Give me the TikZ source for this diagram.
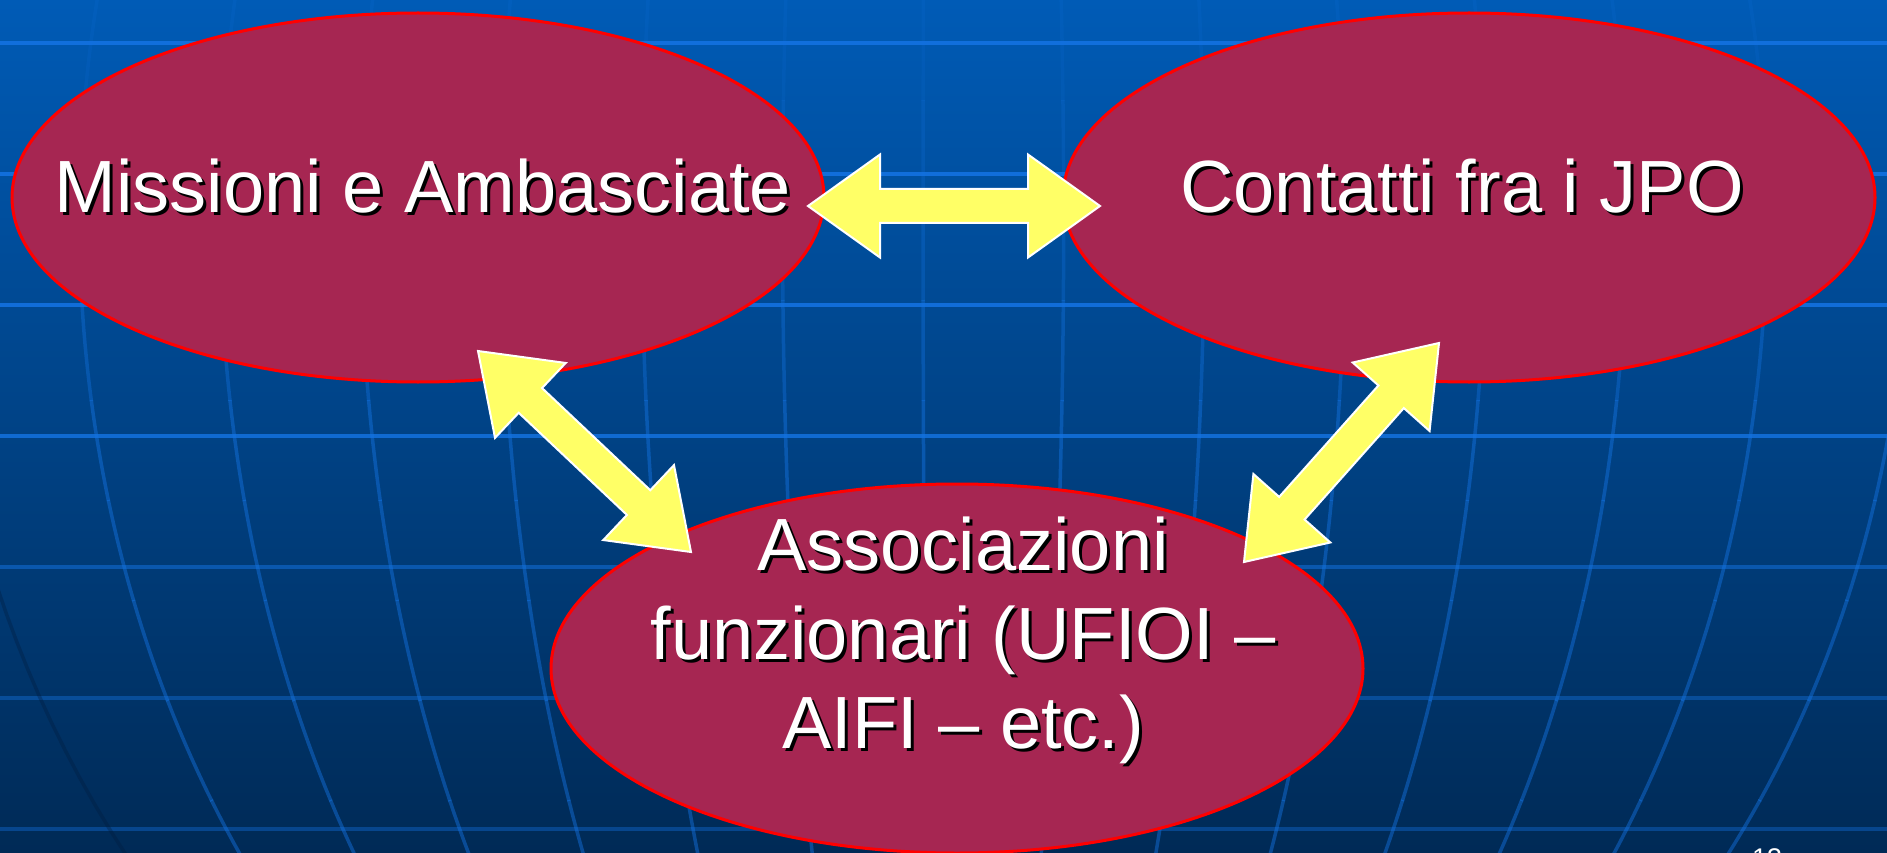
\documentclass[tikz,border=0pt]{standalone}
\usepackage{fontspec}
\setmainfont{Liberation Sans}
\usetikzlibrary{shapes.geometric,calc}
\definecolor{bgtop}{RGB}{0,91,182}
\definecolor{bgmid}{RGB}{0,66,135}
\definecolor{bgbot}{RGB}{0,42,86}
\definecolor{gridc}{RGB}{20,116,228}
\definecolor{edgec}{RGB}{0,28,62}
\definecolor{ellfill}{RGB}{166,38,82}
\definecolor{arrowyellow}{RGB}{255,255,102}
\newcommand\blockarrow[2]{%
\draw[blockarr] (#1) -- ($(#1)!72pt!(#2)!51.5pt!90:(#2)$) -- ($(#1)!72pt!(#2)!17pt!90:(#2)$)
 -- ($(#2)!72pt!(#1)!17pt!-90:(#1)$) -- ($(#2)!72pt!(#1)!51.5pt!-90:(#1)$) -- (#2)
 -- ($(#2)!72pt!(#1)!51.5pt!90:(#1)$) -- ($(#2)!72pt!(#1)!17pt!90:(#1)$)
 -- ($(#1)!72pt!(#2)!17pt!-90:(#2)$) -- ($(#1)!72pt!(#2)!51.5pt!-90:(#2)$) -- cycle;}
\newcommand\shtxt[3]{%
\node[lblshadow] at ($#2+(3,3)$) {#3};
\node[lbl] (#1) at #2 {#3};}
\begin{document}
\begin{tikzpicture}[x=1pt,y=-1pt,
  gridline/.style={draw=gridc, line width=3.5pt},
  bubble/.style={ellipse, draw=red, line width=3pt, fill=ellfill,
    minimum width=812pt, minimum height=369pt, inner sep=0pt},
  blockarr/.style={fill=arrowyellow, draw=white, line width=2pt, line join=miter},
  lbl/.style={text=white, font=\fontsize{74}{88}\selectfont, inner sep=0pt, anchor=base},
  lblshadow/.style={lbl, text=black}]
\useasboundingbox (0,0) rectangle (1887,853);
\clip (0,0) rectangle (1887,853);
\shade[top color=bgtop, middle color=bgmid, bottom color=bgbot] (0,0) rectangle (1887,853);
% horizontal grid lines
\foreach \yy/\op in {43/0.85,174/0.85,305/0.85,436/0.8,567/0.5,698/0.4,829/0.38}
  \draw[gridline, draw opacity=\op] (0,\yy) -- (1887,\yy);
% meridians
\foreach \D in {-823,-689,-555,-421,-287,-153,-19,115,249,383,517,651,785,919}{
  \foreach \s in {0,...,8}{
    \pgfmathsetmacro\ya{\s*100}
    \pgfmathsetmacro\yb{\s*100+101}
    \pgfmathsetmacro\op{0.1+0.35*min(1,(\s*100+50)/450)}
    \draw[gridline, draw opacity=\op] plot[domain=\ya:\yb, samples=8, variable=\t]
      ({943+\D*sqrt(1-((\t-220)/1092)^2)/0.953}, \t);
  }
}
\draw[draw=edgec, line width=3.5pt, draw opacity=0.35] plot[domain=560:860, samples=12, variable=\t]
      ({943-957*sqrt(1-((\t-220)/1092)^2)/0.953}, \t);
% ellipses
\node[bubble] (mis) at (418,197.5) {};
\node[bubble] (con) at (1469,197.5) {};
\node[bubble] (ass) at (957,668.5) {};
% arrows
\coordinate (h1) at (808,206); \coordinate (h2) at (1100,206);
\coordinate (l1) at (478,351); \coordinate (l2) at (691,552);
\coordinate (r1) at (1439,343); \coordinate (r2) at (1244,562);
\blockarrow{h1}{h2}
\blockarrow{l1}{l2}
\blockarrow{r1}{r2}
% texts
\shtxt{tmis}{(423,213)}{Missioni e Ambasciate}
\shtxt{tcon}{(1462,213)}{Contatti fra i JPO}
\shtxt{tass1}{(963,570)}{Associazioni}
\shtxt{tass2}{(963,659)}{funzionari (UFIOI –}
\shtxt{tass3}{(963,748)}{AIFI – etc.)}
\node[font=\fontsize{27}{32}\selectfont, text=white, anchor=north, inner sep=0pt] (num) at (1767,848) {13};
\end{tikzpicture}
\end{document}
